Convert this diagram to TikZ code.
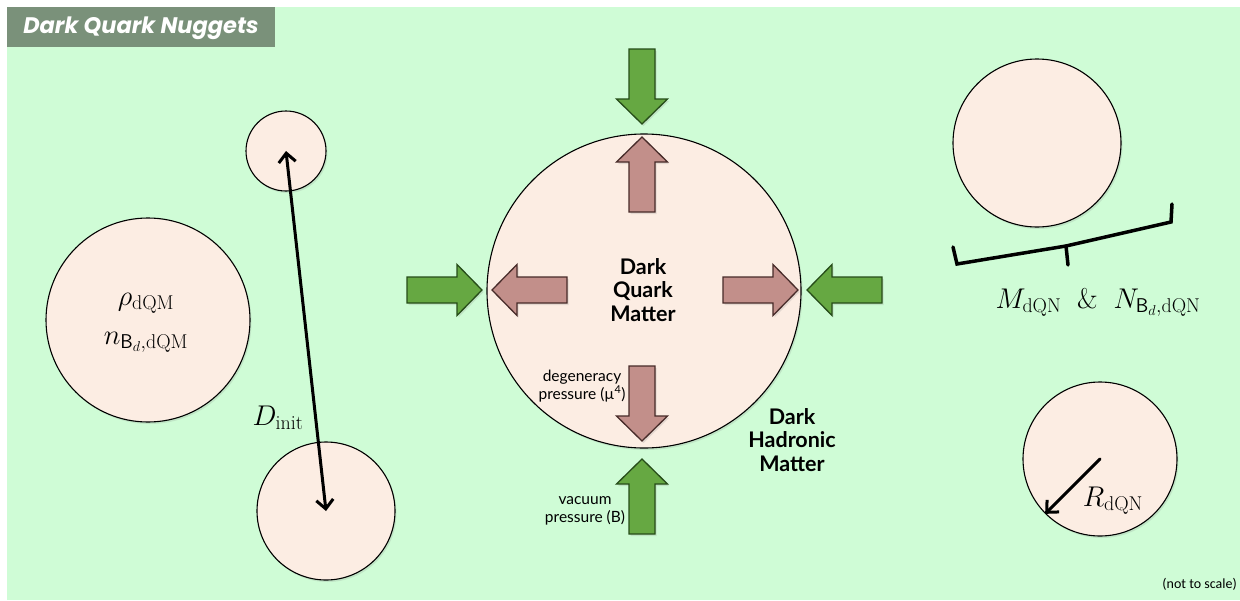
\documentclass[tikz,border=0pt]{standalone}
\usepackage{fix-cm}
\usepackage{fontspec}
\usepackage{amsmath}
\usepackage{tikz}
\usetikzlibrary{arrows.meta,positioning,shadows}
\newfontfamily\latofont{Lato}
\newfontfamily\popfont{Poppins}
\newfontfamily\calfont{Carlito}
\definecolor{bggreen}{rgb}{0.81,0.99,0.84}
\definecolor{peach}{rgb}{0.99,0.93,0.89}
\definecolor{titlegray}{rgb}{0.48,0.57,0.48}
\definecolor{pushgreen}{rgb}{0.40,0.66,0.26}
\definecolor{pushgreendk}{rgb}{0.15,0.30,0.10}
\definecolor{pushpink}{rgb}{0.76,0.56,0.54}
\definecolor{pushpinkdk}{rgb}{0.28,0.17,0.16}

\begin{document}
\begin{tikzpicture}[line cap=round,line join=round,x=1pt,y=-1pt,
  nugget/.style={circle,draw=black,line width=1.1pt,fill=peach,inner sep=0pt,
    drop shadow={opacity=0.18,shadow xshift=1.5pt,shadow yshift=-2pt}},
  greenpush/.style={draw=pushgreendk,fill=pushgreen,line width=1.3pt,line join=miter,
    drop shadow={opacity=0.2,shadow xshift=1.5pt,shadow yshift=-2pt}},
  pinkpush/.style={draw=pushpinkdk,fill=pushpink,line width=1.3pt,line join=miter,
    drop shadow={opacity=0.2,shadow xshift=1.5pt,shadow yshift=-2pt}},
  mathlbl/.style={inner sep=1pt,font=\fontsize{28.5}{33}\selectfont},
  phase/.style={align=center,inner sep=1pt,font=\latofont\bfseries\fontsize{21.5}{23.5}\selectfont},
  note/.style={align=center,inner sep=1pt,font=\latofont\fontsize{15.5}{17.5}\selectfont},
  barb/.tip={Straight Barb[length=9pt,width=17pt]}]
  % frame
  \fill[white] (0,0) rectangle (1240,600);
  \useasboundingbox (0,0) rectangle (1240,600);
  \fill[bggreen] (7,7) rectangle (1240,600);
  \fill[titlegray] (7,7) rectangle (275,47);
  \node[text=white,inner sep=0pt,font=\popfont\bfseries\itshape\fontsize{22.5}{26}\selectfont] (title) at (141,28) {Dark Quark Nuggets};

  % left: bulk phase and two seeds
  \node[nugget,minimum size=204pt] (bulk) at (148,320) {};
  \node[mathlbl] (rho) at (146,303) {$\rho_{\mathrm{dQM}}$};
  \node[mathlbl] (nB) at (146,342) {$n_{\mathsf{B}_d,\mathrm{dQM}}$};
  \node[nugget,minimum size=80pt] (seedA) at (286,151) {};
  \node[nugget,minimum size=138pt] (seedB) at (326,511) {};
  \draw[barb-barb,line width=3pt] (seedA.center) -- (seedB.center);
  \node[mathlbl] (dinit) at (278,418) {$D_{\mathrm{init}}$};

  % middle: pressure balance
  \foreach \bx/\by/\ang in {642/49/-90,407/290/0,882/290/180,642/534/90}
    \draw[greenpush,shift={(\bx,\by)},rotate=\ang] (0,-13) -- (50,-13) -- (50,-25.5) -- (75,0) -- (50,25.5) -- (50,13) -- (0,13) -- cycle;
  \node[nugget,minimum size=314pt] (core) at (644,291) {};
  \foreach \bx/\by/\ang in {642/212/90,567/290/180,723/290/0,642/366/-90}
    \draw[pinkpush,shift={(\bx,\by)},rotate=\ang] (0,-13) -- (50,-13) -- (50,-25.5) -- (75,0) -- (50,25.5) -- (50,13) -- (0,13) -- cycle;
  \node[phase] (dqm) at (643,290) {Dark\\Quark\\Matter};
  \node[phase] (dhm) at (792,440) {Dark\\Hadronic\\Matter};
  \node[note] (degen) at (582,386) {degeneracy\\pressure (µ\textsuperscript{4})};
  \node[note] (vac) at (585,511) {vacuum\\pressure (B)};

  % right: final nuggets
  \node[nugget,minimum size=168pt] (nugA) at (1037,143) {};
  \draw[line width=3.5pt,line join=miter] (953,247) -- (957,264) -- (1066,246) -- (1171,222) -- (1172,204);
  \draw[line width=3.5pt] (1066,246) -- (1068,265);
  \node[mathlbl] (mass) at (1098,302) {$M_{\mathrm{dQN}}\;\;\&\;\;N_{\mathsf{B}_d,\mathrm{dQN}}$};
  \node[nugget,minimum size=154pt] (nugB) at (1100,459) {};
  \draw[-barb,line width=3pt] (nugB.center) -- (nugB.south west);
  \node[mathlbl] (rad) at (1113,501) {$R_{\mathrm{dQN}}$};

  \node[anchor=east,inner sep=0pt,font=\calfont\fontsize{14}{16}\selectfont] (scale) at (1237,584) {(not to scale)};
\end{tikzpicture}
\end{document}
